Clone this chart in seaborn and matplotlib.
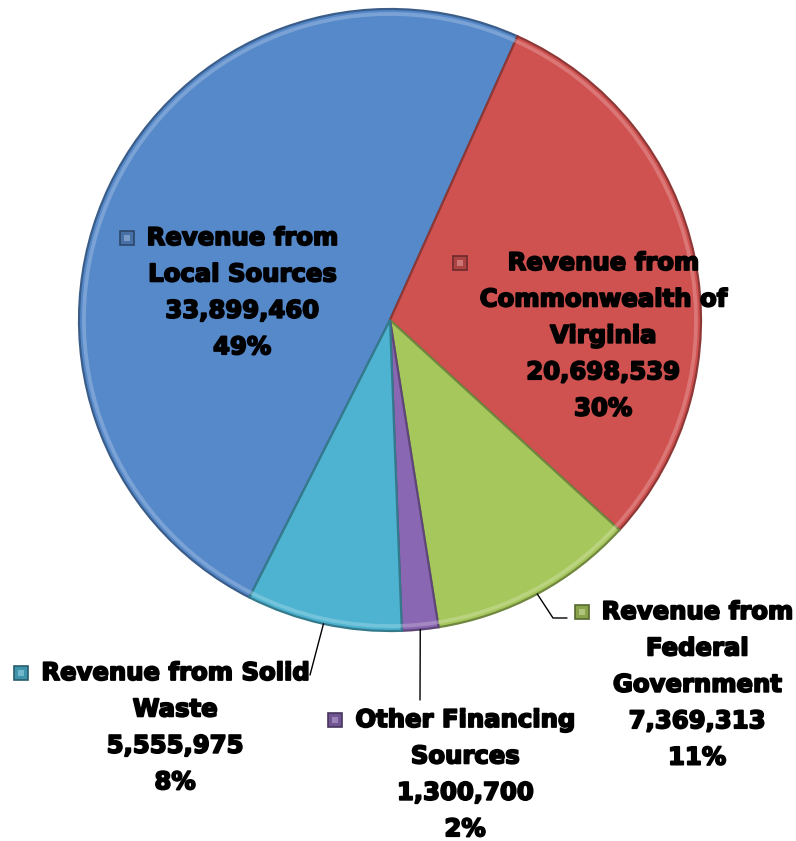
import math
import matplotlib
matplotlib.use("Agg")
import matplotlib.pyplot as plt
import matplotlib.patheffects as pe
from matplotlib.patches import Rectangle
import seaborn as sns

# Revenue sources (dollars)
categories = [
    "Revenue from Local Sources",
    "Revenue from Commonwealth of Virginia",
    "Revenue from Federal Government",
    "Other Financing Sources",
    "Revenue from Solid Waste",
]
label_lines = [
    ["Revenue from", "Local Sources"],
    ["Revenue from", "Commonwealth of", "Virginia"],
    ["Revenue from", "Federal", "Government"],
    ["Other Financing", "Sources"],
    ["Revenue from Solid", "Waste"],
]
amounts = [33899460, 20698539, 7369313, 1300700, 5555975]
slice_colors = ["#5689CA", "#D05250", "#A6C75C", "#8A67B2", "#4DB3D0"]

# Layout in pixels
W, H, DPI = 796, 841, 100
CX, CY, R = 390, 320, 311
label_anchor = [(242, 238), (603, 263), (697, 612), (465, 720), (175, 673)]
leader_end = [None, None, [(553, 618), (567, 618)], [(420, 700)], [(310, 675)]]
LINE_STEP = 36.4

sns.set_theme(style="white")
plt.rcParams["font.family"] = ["DejaVu Sans"]

fig = plt.figure(figsize=(W / DPI, H / DPI), dpi=DPI)
ax = fig.add_axes([0, 0, 1, 1])


def px(x, y):
    return (x - CX) / R, (CY - y) / R


total = sum(amounts)
start = 65.8 + 360 * amounts[0] / total
palette = sns.color_palette(slice_colors)
mid_tone = [tuple(c * 0.82 for c in col) for col in palette]
dark = [tuple(c * 0.68 for c in col) for col in palette]
darker = [tuple(c * 0.52 for c in col) for col in palette]
light = [tuple(1 - (1 - c) * 0.6 for c in col) for col in palette]

wedges, _ = ax.pie(amounts, colors=palette, startangle=start, counterclock=False,
                   radius=1.0, wedgeprops=dict(linewidth=1.6))
for w, d in zip(wedges, dark):
    w.set_edgecolor(d)

# soft bevel highlight just inside the rim
rim, _ = ax.pie(amounts, colors=light, startangle=start, counterclock=False,
                radius=0.99, wedgeprops=dict(width=0.012, linewidth=0, alpha=0.55))

ax.set_xlim(-CX / R, (W - CX) / R)
ax.set_ylim(-(H - CY) / R, CY / R)
ax.set_aspect("equal")
ax.axis("off")

text_fx = [pe.withStroke(linewidth=1.3, foreground="black")]
renderer = fig.canvas.get_renderer()
inv = ax.transData.inverted()

for i, (lines, val) in enumerate(zip(label_lines, amounts)):
    pct = round(100 * val / total)
    all_lines = lines + [f"{val:,}", f"{pct}%"]
    bx, by = label_anchor[i]
    left_px = None
    for k, line in enumerate(all_lines):
        t = ax.text(*px(bx, by + k * LINE_STEP), line, ha="center", va="center",
                    fontsize=17.5, fontweight="bold", color="black",
                    path_effects=text_fx, zorder=5)
        ext = t.get_window_extent(renderer)
        left_px = ext.x0 if left_px is None else min(left_px, ext.x0)

    # bevelled colour key left of the label block
    key_cx = left_px - 20
    kx, ky = inv.transform((key_cx, H - by))
    s = 14 / R
    ax.add_patch(Rectangle((kx - s / 2, ky - s / 2), s, s, facecolor=mid_tone[i],
                           edgecolor=darker[i], linewidth=1.2, zorder=5))
    s2 = 6 / R
    ax.add_patch(Rectangle((kx - s2 / 2, ky - s2 / 2), s2, s2, facecolor=light[i],
                           edgecolor="none", alpha=0.6, zorder=6))

    # leader lines from the wedge rim to outside labels
    if leader_end[i] is not None:
        w = wedges[i]
        mid = math.radians((w.theta1 + w.theta2) / 2)
        xs = [math.cos(mid)]
        ys = [math.sin(mid)]
        for (lx, ly) in leader_end[i]:
            dx, dy = px(lx, ly)
            xs.append(dx)
            ys.append(dy)
        ax.plot(xs, ys, color="black", linewidth=1.0, zorder=4)

fig.savefig("out.png", dpi=DPI)
